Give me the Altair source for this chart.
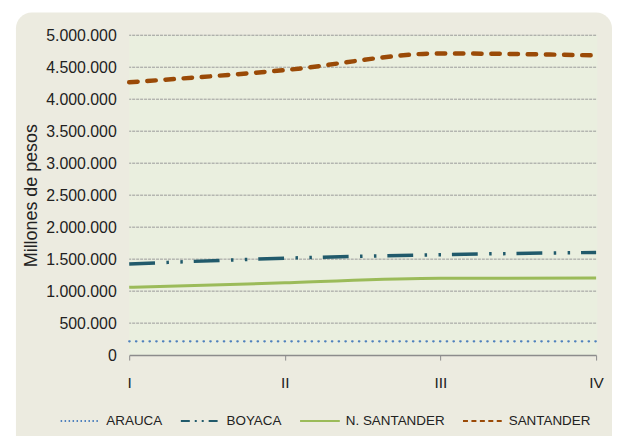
import altair as alt
import pandas as pd

quarters = ["I", "II", "III", "IV"]
series = ["ARAUCA", "BOYACA", "N. SANTANDER", "SANTANDER"]
arauca = [215000, 215000, 215000, 215000]
boyaca = [1425000, 1515000, 1570000, 1605000]
nsantander = [1060000, 1130000, 1200000, 1205000]
santander = [4265000, 4455000, 4715000, 4685000]
y_ticks = [0, 500000, 1000000, 1500000, 2000000, 2500000, 3000000, 3500000, 4000000, 4500000, 5000000]
grid_values = y_ticks[1:]

colors = ["#4F81BD", "#215A6B", "#9BBB59", "#9A4A07"]
legend_dashes = [[1.5, 2.5], [9, 5, 2, 5, 2, 5], [1, 0], [5, 3.5]]

FONT = "Liberation Sans, Arial, sans-serif"

rows = []
for name, vals in zip(series, [arauca, boyaca, nsantander, santander]):
    for q, v in zip(quarters, vals):
        rows.append({"quarter": q, "series": name, "value": v})
df = pd.DataFrame(rows)

x_enc = alt.X(
    "quarter:N",
    sort=quarters,
    scale=alt.Scale(domain=quarters, padding=0),
    axis=alt.Axis(
        title=None, labelAngle=0, labelFontSize=15.5, labelColor="#222222",
        labelFont=FONT, labelPadding=16, tickSize=5, tickColor="#8c8c8c",
        domainColor="#8c8c8c", domainWidth=1.5, grid=False, zindex=1,
    ),
)
y_enc = alt.Y(
    "value:Q",
    scale=alt.Scale(domain=[0, 5000000], nice=False),
    axis=alt.Axis(
        title="Millones de pesos", values=y_ticks,
        labelExpr="replace(format(datum.value, ','), regexp(',', 'g'), '.')",
        domain=False, ticks=False, grid=False, labelPadding=13,
        labelFontSize=16, labelColor="#222222", labelFont=FONT,
        titleFontSize=18, titleFontWeight="normal", titleColor="#222222",
        titleFont=FONT, titlePadding=5, zindex=1,
    ),
)

one = alt.Data(values=[{"k": 1}])

bg_outer = alt.Chart(one).mark_rect(fill="#ECEBE0", cornerRadius=16).encode(
    x=alt.value(-114), x2=alt.value(486), y=alt.value(-23), y2=alt.value(430)
)
bg_plot = alt.Chart(one).mark_rect(fill="#EAEFDF").encode(
    x=alt.value(0), x2=alt.value(471), y=alt.value(0), y2=alt.value(322)
)

grid = alt.Chart(pd.DataFrame({"value": grid_values})).mark_rule(
    color="#9a9a9a", strokeWidth=1, strokeDash=[3, 1]
).encode(y=y_enc)

leg = alt.Legend(
    title=None, orient="none", legendX=-70, legendY=367, direction="horizontal",
    symbolType="stroke", symbolSize=1600, symbolStrokeWidth=2,
    labelFontSize=13.5, labelFont=FONT, labelColor="#222222", labelOffset=5,
    columnPadding=14, padding=0, zindex=1,
)
legend_layer = alt.Chart(df).transform_filter("false").mark_line(strokeWidth=2).encode(
    x=x_enc, y=y_enc,
    color=alt.Color("series:N", scale=alt.Scale(domain=series, range=colors), legend=leg),
    strokeDash=alt.StrokeDash("series:N", scale=alt.Scale(domain=series, range=legend_dashes), legend=leg),
)

styles = {
    "ARAUCA": dict(color=colors[0], strokeWidth=2.2, strokeDash=[0.5, 6.3], strokeCap="round"),
    "BOYACA": dict(color=colors[1], strokeWidth=3.5, strokeDash=[26, 11.5, 2.5, 11.5, 2.5, 11], strokeCap="butt"),
    "N. SANTANDER": dict(color=colors[2], strokeWidth=3, strokeCap="butt"),
    "SANTANDER": dict(color=colors[3], strokeWidth=4.5, strokeDash=[8.5, 9.8], strokeCap="round"),
}

line_layers = []
for name in series:
    line_layers.append(
        alt.Chart(df).transform_filter(alt.datum.series == name)
        .mark_line(interpolate="monotone", **styles[name])
        .encode(x=x_enc, y=y_enc)
    )

chart = alt.layer(bg_outer, bg_plot, grid, legend_layer, *line_layers).properties(
    width=470, height=322,
    padding={"left": 122, "top": 26, "right": 16, "bottom": 80},
    autosize=alt.AutoSizeParams(type="none"),
).configure_view(stroke=None)

chart.save("out.html", embed_options={"renderer": "svg", "actions": False})
